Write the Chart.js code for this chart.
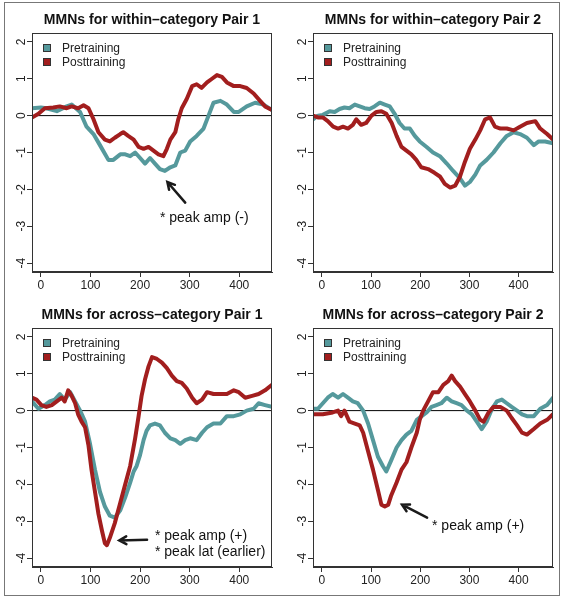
<!DOCTYPE html>
<html>
<head>
<meta charset="utf-8">
<script src="https://cdn.jsdelivr.net/npm/chart.js@4/dist/chart.umd.min.js"></script>
<style>
  body { margin: 0; background: #fff; }
  #wrap { position: relative; width: 565px; height: 600px; }
  #wrap canvas { position: absolute; }
  #frame { position: absolute; left: 4px; top: 2px; width: 554px; height: 592px; border: 1px solid #777; }
</style>
</head>
<body>
<div id="wrap">
  <div id="frame"></div>
  <canvas id="c1" width="280" height="295" style="left:0;top:0"></canvas>
  <canvas id="c2" width="280" height="295" style="left:281px;top:0"></canvas>
  <canvas id="c3" width="280" height="295" style="left:0;top:295px"></canvas>
  <canvas id="c4" width="280" height="295" style="left:281px;top:295px"></canvas>
</div>
<script>
// [time in ms, amplitude]
const within1Pre = [[-18,0.2],[0,0.22],[11,0.2],[32,0.12],[52,0.25],[62,0.3],[79,0.1],[92,-0.3],[106,-0.5],[119,-0.8],[136,-1.2],[146,-1.2],[160,-1.05],[170,-1.05],[180,-1.1],[190,-1.0],[200,-1.15],[210,-1.3],[220,-1.15],[230,-1.3],[240,-1.45],[250,-1.5],[261,-1.4],[271,-1.35],[281,-1.0],[291,-0.95],[301,-0.7],[314,-0.55],[328,-0.35],[338,0.0],[348,0.35],[362,0.4],[375,0.3],[389,0.1],[399,0.1],[415,0.25],[432,0.35],[449,0.3],[466,0.15]];
const within1Post = [[-18,-0.05],[-5,0.05],[8,0.2],[25,0.22],[38,0.25],[52,0.2],[62,0.25],[75,0.2],[86,0.28],[96,0.2],[106,-0.1],[116,-0.45],[129,-0.65],[139,-0.7],[149,-0.6],[160,-0.5],[166,-0.45],[176,-0.55],[187,-0.65],[197,-0.85],[207,-0.9],[217,-0.85],[227,-0.95],[237,-1.05],[247,-1.1],[254,-0.9],[261,-0.65],[271,-0.45],[277,-0.1],[284,0.2],[294,0.45],[305,0.8],[314,0.85],[324,0.75],[335,0.9],[345,1.0],[355,1.1],[365,1.05],[375,0.9],[389,0.8],[402,0.8],[415,0.75],[429,0.6],[442,0.4],[452,0.25],[466,0.15]];

const within2Pre = [[-18,-0.1],[-8,0.0],[2,0.02],[16,0.12],[26,0.1],[36,0.18],[46,0.22],[56,0.2],[67,0.3],[77,0.25],[87,0.2],[97,0.18],[107,0.25],[118,0.35],[128,0.3],[138,0.25],[148,0.05],[158,-0.2],[168,-0.35],[179,-0.35],[189,-0.55],[199,-0.7],[213,-0.85],[226,-1.0],[240,-1.1],[254,-1.3],[267,-1.5],[281,-1.7],[291,-1.9],[301,-1.8],[312,-1.6],[322,-1.35],[335,-1.2],[349,-1.0],[363,-0.75],[376,-0.55],[390,-0.45],[403,-0.5],[417,-0.6],[431,-0.8],[441,-0.7],[454,-0.7],[470,-0.75]];
const within2Post = [[-18,0.0],[-8,-0.05],[2,-0.05],[12,-0.15],[23,-0.3],[33,-0.35],[43,-0.3],[53,-0.35],[63,-0.25],[70,-0.1],[80,-0.25],[90,-0.2],[101,0.0],[111,0.1],[121,0.12],[131,0.05],[142,-0.2],[152,-0.55],[162,-0.85],[172,-0.95],[182,-1.05],[192,-1.2],[202,-1.4],[216,-1.45],[229,-1.55],[240,-1.65],[250,-1.85],[261,-1.95],[271,-1.9],[281,-1.65],[291,-1.25],[301,-0.9],[312,-0.65],[322,-0.4],[332,-0.1],[342,-0.05],[352,-0.3],[363,-0.35],[376,-0.35],[390,-0.4],[403,-0.3],[417,-0.2],[434,-0.15],[444,-0.35],[458,-0.5],[470,-0.65]];

const across1Pre = [[-18,0.25],[-5,0.05],[8,0.15],[18,0.25],[28,0.3],[38,0.45],[48,0.3],[59,0.5],[69,0.25],[79,0.0],[89,-0.3],[99,-0.9],[109,-1.6],[119,-2.2],[129,-2.6],[139,-2.85],[149,-2.9],[160,-2.7],[170,-2.35],[180,-1.95],[187,-1.65],[193,-1.5],[200,-1.2],[207,-0.8],[213,-0.55],[220,-0.4],[230,-0.35],[240,-0.4],[250,-0.6],[261,-0.75],[271,-0.8],[281,-0.9],[291,-0.8],[301,-0.75],[314,-0.8],[325,-0.6],[335,-0.45],[348,-0.35],[362,-0.35],[375,-0.15],[389,-0.15],[402,-0.1],[415,0.0],[429,0.05],[439,0.2],[452,0.15],[466,0.1]];
const across1Post = [[-18,0.35],[-9,0.3],[1,0.15],[11,0.1],[22,0.15],[32,0.25],[42,0.35],[48,0.25],[55,0.55],[62,0.4],[69,0.2],[75,-0.1],[82,-0.3],[89,-0.45],[96,-0.95],[102,-1.6],[109,-2.2],[116,-2.8],[123,-3.25],[129,-3.6],[133,-3.65],[139,-3.45],[149,-3.05],[160,-2.5],[170,-2.0],[180,-1.5],[190,-0.75],[197,-0.15],[203,0.4],[210,0.85],[217,1.2],[224,1.45],[234,1.4],[244,1.3],[254,1.15],[264,0.95],[274,0.8],[284,0.75],[294,0.6],[305,0.35],[314,0.2],[325,0.3],[335,0.5],[348,0.45],[362,0.45],[375,0.45],[389,0.55],[399,0.5],[412,0.35],[426,0.4],[439,0.45],[452,0.55],[466,0.7]];

const across2Pre = [[-18,0.05],[-8,0.05],[2,0.2],[12,0.35],[22,0.45],[33,0.35],[43,0.45],[53,0.35],[63,0.25],[73,0.2],[84,0.0],[94,-0.35],[104,-0.8],[114,-1.25],[124,-1.5],[131,-1.65],[141,-1.35],[152,-1.0],[162,-0.8],[172,-0.65],[182,-0.55],[193,-0.25],[203,-0.15],[213,-0.05],[223,0.1],[233,0.15],[243,0.2],[254,0.35],[264,0.25],[274,0.2],[284,0.15],[295,0.0],[305,-0.1],[315,-0.3],[325,-0.5],[335,-0.3],[346,0.05],[356,0.25],[366,0.3],[376,0.2],[386,0.1],[397,0.0],[407,-0.1],[417,-0.15],[431,-0.15],[444,0.05],[458,0.15],[470,0.35]];
const across2Post = [[-18,-0.1],[2,-0.1],[22,-0.05],[33,0.0],[39,-0.15],[46,0.0],[56,-0.3],[67,-0.35],[77,-0.4],[84,-0.6],[94,-1.1],[104,-1.6],[114,-2.15],[121,-2.55],[128,-2.6],[135,-2.55],[141,-2.3],[152,-1.95],[162,-1.6],[172,-1.4],[182,-1.0],[193,-0.6],[199,-0.25],[206,0.0],[216,0.25],[226,0.5],[237,0.5],[247,0.7],[257,0.8],[264,0.95],[271,0.8],[281,0.65],[291,0.45],[301,0.25],[312,0.0],[322,-0.25],[329,-0.3],[339,-0.05],[349,0.1],[363,0.1],[376,0.0],[386,-0.2],[397,-0.4],[407,-0.6],[417,-0.65],[431,-0.5],[444,-0.35],[458,-0.25],[470,-0.1]];

const seriesNames = ['Pretraining', 'Posttraining'];
const PRE = '#55999c';
const POST = '#a21e1e';
const FONT = '"Liberation Sans", Arial, sans-serif';

// box, zero line, title, legend, arrows
const decor = {
    id: 'decor',
    beforeDatasetsDraw(chart) {
        const {ctx, chartArea: a, scales: {y}} = chart;
        const y0 = y.getPixelForValue(0);
        ctx.save();
        ctx.strokeStyle = '#000';
        ctx.lineWidth = 1;
        ctx.beginPath();
        ctx.moveTo(a.left, y0);
        ctx.lineTo(a.right, y0);
        ctx.stroke();
        ctx.restore();
    },
    afterDraw(chart, args, opts) {
        const {ctx, chartArea: a, scales: {x, y}} = chart;
        ctx.save();
        ctx.strokeStyle = '#333';
        ctx.lineWidth = 1;
        ctx.strokeRect(a.left + 0.5, a.top + 0.5, a.width - 1, a.height - 1);

        ctx.fillStyle = '#111';
        ctx.font = 'bold 14px ' + FONT;
        ctx.textAlign = 'center';
        ctx.textBaseline = 'middle';
        ctx.fillText(opts.title, (a.left + a.right) / 2, 20);

        ctx.font = '12px ' + FONT;
        ctx.textAlign = 'left';
        chart.data.datasets.forEach((ds, i) => {
            const yy = a.top + 15 + i * 14;
            ctx.fillStyle = ds.borderColor;
            ctx.fillRect(a.left + 11, yy - 4, 8, 8);
            ctx.strokeStyle = '#333';
            ctx.strokeRect(a.left + 11.5, yy - 3.5, 7, 7);
            ctx.fillStyle = '#222';
            ctx.fillText(ds.label, a.left + 30, yy + 1);
        });

        ctx.strokeStyle = '#1a1a1a';
        ctx.lineWidth = 2.5;
        ctx.lineCap = 'round';
        opts.arrows.forEach(([x0, v0, x1, v1]) => {
            const px0 = x.getPixelForValue(x0), py0 = y.getPixelForValue(v0);
            const px1 = x.getPixelForValue(x1), py1 = y.getPixelForValue(v1);
            const ang = Math.atan2(py1 - py0, px1 - px0);
            ctx.beginPath();
            ctx.moveTo(px0, py0);
            ctx.lineTo(px1, py1);
            ctx.moveTo(px1 - 8 * Math.cos(ang - 0.5), py1 - 8 * Math.sin(ang - 0.5));
            ctx.lineTo(px1, py1);
            ctx.lineTo(px1 - 8 * Math.cos(ang + 0.5), py1 - 8 * Math.sin(ang + 0.5));
            ctx.stroke();
        });

        ctx.fillStyle = '#111';
        ctx.font = '14px ' + FONT;
        opts.notes.forEach(([t, v, txt]) => {
            ctx.fillText(txt, x.getPixelForValue(t), y.getPixelForValue(v));
        });
        ctx.restore();
    }
};

function toPoints(arr) {
    return arr.map(([t, v]) => ({x: t, y: v}));
}

function makePanel(id, title, pre, post, xMax, arrows, notes) {
    const tickFont = {family: FONT, size: 12};
    const config = {
        type: 'line',
        data: {
            datasets: [
                {label: seriesNames[0], data: toPoints(pre), borderColor: PRE, order: 2},
                {label: seriesNames[1], data: toPoints(post), borderColor: POST, order: 1}
            ]
        },
        options: {
            responsive: false,
            animation: false,
            elements: {
                point: {radius: 0},
                line: {borderWidth: 4, tension: 0, borderJoinStyle: 'round', borderCapStyle: 'round'}
            },
            layout: {padding: {top: 33, right: 8, left: 0, bottom: 0}},
            plugins: {
                legend: {display: false},
                tooltip: {enabled: false},
                decor: {title: title, arrows: arrows, notes: notes}
            },
            scales: {
                x: {
                    type: 'linear', min: -18, max: xMax,
                    ticks: {stepSize: 100, includeBounds: false, padding: 1, maxRotation: 0, font: tickFont, color: '#222'},
                    grid: {drawOnChartArea: false, tickLength: 5, color: '#333'},
                    border: {color: '#333'},
                    afterFit: s => { s.height = 23; }
                },
                y: {
                    min: -4.24, max: 2.24,
                    ticks: {stepSize: 1, includeBounds: false, minRotation: 90, maxRotation: 90, crossAlign: 'center', padding: 0, font: tickFont, color: '#222'},
                    grid: {drawOnChartArea: false, tickLength: 5, color: '#333'},
                    border: {color: '#333'},
                    afterFit: s => { s.width = 32; }
                }
            }
        },
        plugins: [decor]
    };
    return new Chart(document.getElementById(id).getContext('2d'), config);
}

makePanel('c1', 'MMNs for within\u2013category Pair 1', within1Pre, within1Post, 466,
    [[291, -2.36, 255, -1.8]],
    [[240, -2.77, '* peak amp (-)']]);
makePanel('c2', 'MMNs for within\u2013category Pair 2', within2Pre, within2Post, 470, [], []);
makePanel('c3', 'MMNs for across\u2013category Pair 1', across1Pre, across1Post, 466,
    [[214, -3.5, 158, -3.52]],
    [[230, -3.39, '* peak amp (+)'], [230, -3.85, '* peak lat (earlier)']]);
makePanel('c4', 'MMNs for across\u2013category Pair 2', across2Pre, across2Post, 470,
    [[214, -2.9, 163, -2.55]],
    [[224, -3.14, '* peak amp (+)']]);
</script>
</body>
</html>
